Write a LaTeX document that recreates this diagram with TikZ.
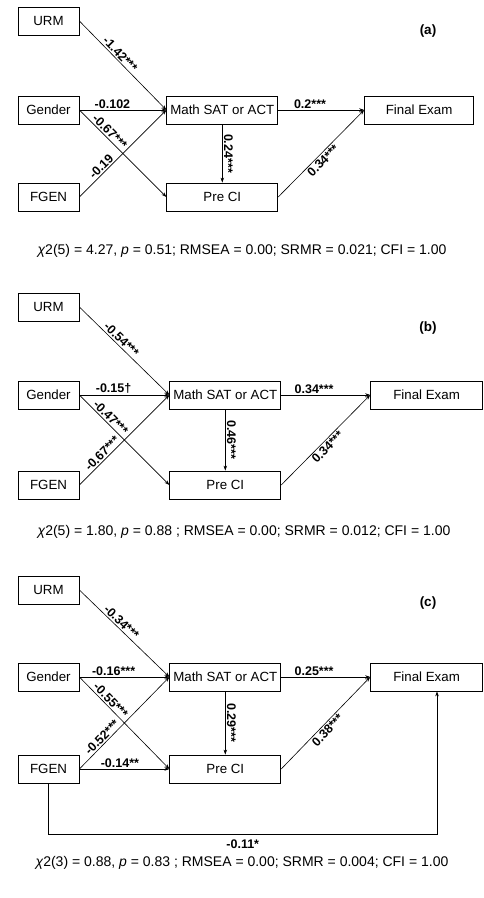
\documentclass[tikz,border=0pt]{standalone}
\usepackage{fontspec}
\setmainfont{Liberation Sans}
\usetikzlibrary{arrows.meta, positioning}

\tikzset{
  varbox/.style={draw, line width=0.8pt, minimum height=28pt, inner sep=2pt, font=\fontsize{13.3}{15}\selectfont},
  leftbox/.style={varbox, minimum width=61pt},
  midbox/.style={varbox, minimum width=111pt},
  coef/.style={font=\bfseries\fontsize{12.5}{14}\selectfont, inner sep=1.5pt},
  downcoef/.style={coef, sloped, allow upside down, above, midway},
  panel/.style={font=\bfseries\fontsize{13.5}{15}\selectfont},
  fitstat/.style={font=\fontsize{14}{16}\selectfont}
}

\begin{document}
\begin{tikzpicture}[x=1pt, y=-1pt, >={Stealth[length=5pt,width=3.5pt]}, line width=0.6pt]
\useasboundingbox (0,0) rectangle (484,898);

% (a)
\node[leftbox] (urmA) at (48.5,21) {URM};
\node[leftbox] (genderA) at (48.5,110) {Gender};
\node[leftbox] (fgenA) at (48.5,197) {FGEN};
\node[midbox, right=87pt of genderA] (mathA) {Math SAT or ACT};
\node[midbox, right=87pt of fgenA] (preA) {Pre CI};
\node[varbox, minimum width=109pt, right=86pt of mathA] (finalA) {Final Exam};
\node[panel] (tagA) at (428,31.5) {(a)};

\draw[->] (urmA.east) -- (mathA.west) node[coef, sloped, above, pos=0.42] {-1.42***};
\draw[->] (genderA.east) -- (mathA.west) node[coef, above, pos=0.38] {-0.102};
\draw[->] (genderA.east) -- (preA.west) node[coef, sloped, above, pos=0.3] {-0.67***};
\draw[->] (fgenA.east) -- (mathA.west) node[coef, sloped, above, pos=0.3] {-0.19};
\draw[->] (mathA) -- (preA) node[downcoef] {0.24***};
\draw[->] (mathA.east) -- (finalA.west) node[coef, above, pos=0.37] {0.2***};
\draw[->] (preA.east) -- (finalA.west) node[coef, sloped, below, pos=0.47] {0.34***};

\node[fitstat] (fitA) at (242,251) {{\itshape χ}2(5) = 4.27, {\itshape p} = 0.51; RMSEA = 0.00; SRMR = 0.021; CFI = 1.00};

% (b)
\node[leftbox] (urmB) at (48.5,307) {URM};
\node[leftbox] (genderB) at (48.5,395) {Gender};
\node[leftbox] (fgenB) at (48.5,485) {FGEN};
\node[midbox, right=90pt of genderB] (mathB) {Math SAT or ACT};
\node[midbox, right=90pt of fgenB] (preB) {Pre CI};
\node[varbox, minimum width=112pt, right=89pt of mathB] (finalB) {Final Exam};
\node[panel] (tagB) at (428,328) {(b)};

\draw[->] (urmB.east) -- (mathB.west) node[coef, sloped, above, pos=0.42] {-0.54***};
\draw[->] (genderB.east) -- (mathB.west) node[coef, above, pos=0.38] {-0.15†};
\draw[->] (genderB.east) -- (preB.west) node[coef, sloped, above, pos=0.3] {-0.47***};
\draw[->] (fgenB.east) -- (mathB.west) node[coef, sloped, above, pos=0.3] {-0.67***};
\draw[->] (mathB) -- (preB) node[downcoef] {0.46***};
\draw[->] (mathB.east) -- (finalB.west) node[coef, above, pos=0.37] {0.34***};
\draw[->] (preB.east) -- (finalB.west) node[coef, sloped, below, pos=0.47] {0.34***};

\node[fitstat] (fitB) at (244,532) {{\itshape χ}2(5) = 1.80, {\itshape p} = 0.88 ; RMSEA = 0.00; SRMR = 0.012; CFI = 1.00};

% (c)
\node[leftbox] (urmC) at (48.5,590) {URM};
\node[leftbox] (genderC) at (48.5,677) {Gender};
\node[leftbox] (fgenC) at (48.5,769) {FGEN};
\node[midbox, right=90pt of genderC] (mathC) {Math SAT or ACT};
\node[midbox, right=90pt of fgenC] (preC) {Pre CI};
\node[varbox, minimum width=112pt, right=89pt of mathC] (finalC) {Final Exam};
\node[panel] (tagC) at (428,603) {(c)};
\coordinate (loopC) at (437,834);

\draw[->] (urmC.east) -- (mathC.west) node[coef, sloped, above, pos=0.42] {-0.34***};
\draw[->] (genderC.east) -- (mathC.west) node[coef, above, pos=0.38] {-0.16***};
\draw[->] (genderC.east) -- (preC.west) node[coef, sloped, above, pos=0.3] {-0.55***};
\draw[->] (fgenC.east) -- (mathC.west) node[coef, sloped, above, pos=0.3] {-0.52***};
\draw[->] (fgenC.east) -- (preC.west) node[coef, above, pos=0.45] {-0.14**};
\draw[->] (mathC) -- (preC) node[downcoef] {0.29***};
\draw[->] (mathC.east) -- (finalC.west) node[coef, above, pos=0.37] {0.25***};
\draw[->] (preC.east) -- (finalC.west) node[coef, sloped, below, pos=0.47] {0.38***};
\draw[->] (fgenC.south) |- (loopC) node[coef, below=4pt, pos=0.75] {-0.11*} -- (loopC |- finalC.south);

\node[fitstat] (fitC) at (242,863) {{\itshape χ}2(3) = 0.88, {\itshape p} = 0.83 ; RMSEA = 0.00; SRMR = 0.004; CFI = 1.00};
\end{tikzpicture}
\end{document}
